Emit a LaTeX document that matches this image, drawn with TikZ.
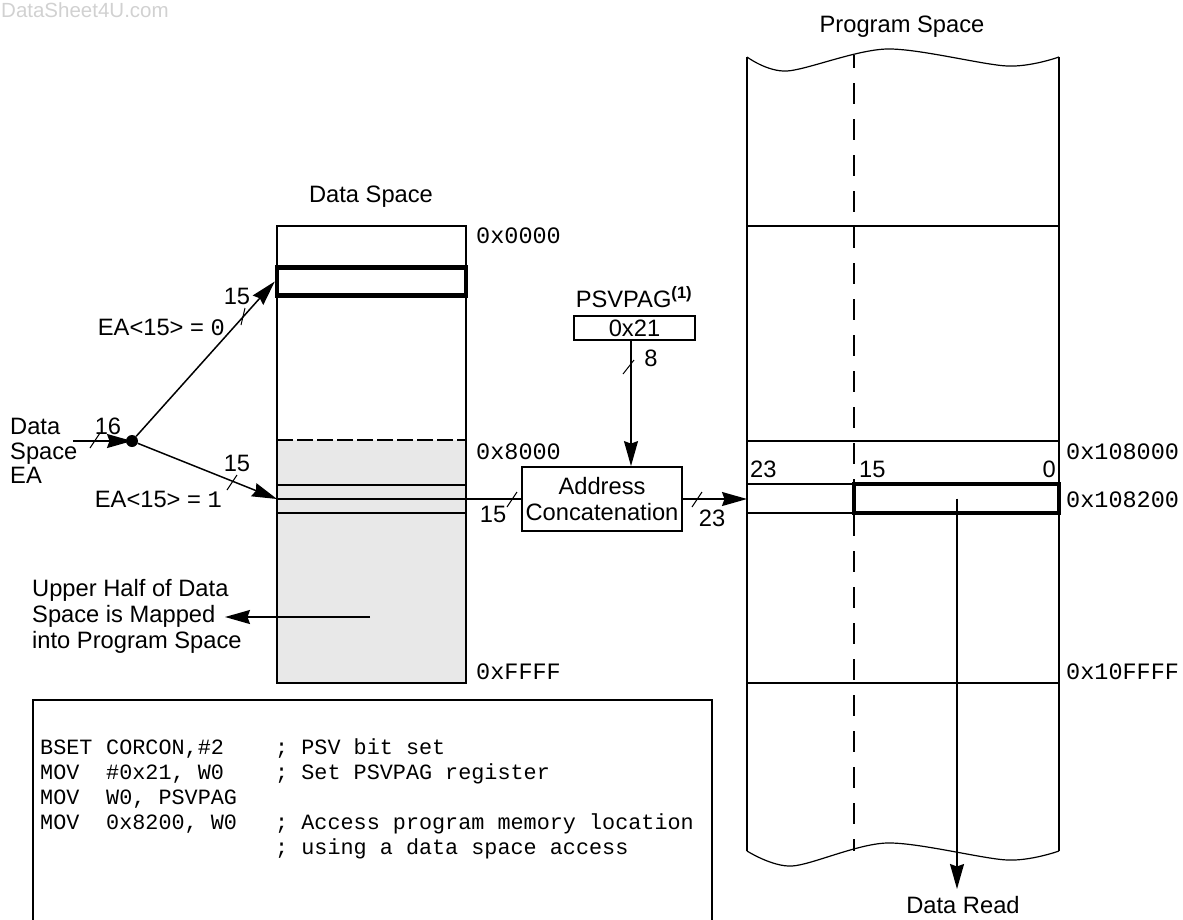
\documentclass[tikz,border=0pt]{standalone}
\usepackage{fontspec}
\setmainfont{Liberation Sans}
\newfontfamily\monofont{Liberation Mono}
\usetikzlibrary{arrows.meta}
\begin{document}
\begin{tikzpicture}[x=1pt,y=-1pt,
  lab/.style={font=\fontsize{23.7}{27}\selectfont, inner sep=0pt},
  hex/.style={font=\fontsize{23.5}{27}\selectfont\monofont, inner sep=0pt, anchor=west},
  code/.style={font=\fontsize{21.8}{25}\selectfont\monofont, inner sep=0pt, anchor=base west},
  conn/.style={line width=1.5pt, -{Stealth[length=25pt,width=14pt,inset=2.5pt]}},
  plain/.style={line width=1.5pt},
  tick/.style={line width=1pt},
  thickbox/.style={draw, line width=4.5pt, inner sep=0pt},
  regbox/.style={draw, line width=1.8pt, inner sep=0pt}
]
\useasboundingbox (0,0) rectangle (1183,919);

% watermark
\node[font=\fontsize{20.5}{24}\selectfont, text=black!18, anchor=base west, inner sep=0pt] (wm) at (1,17) {DataSheet4U.com};

% ---------------- Data space ----------------
\node[lab] (dstitle) at (371,197) {Data Space};
\fill[black!9] (277,440) rectangle (466,683);
\draw[line width=1.8pt] (277,226) rectangle (466,683);
\draw[line width=1.5pt, dash pattern=on 16pt off 4pt] (277,440) -- (466,440);
\draw[plain] (277,485) -- (466,485);
\draw[plain] (277,513) -- (466,513);
\node[thickbox, minimum width=189pt, minimum height=28pt] (dthick) at (371.5,281.5) {};
\node[hex] (h0) at (476,236) {0x0000};
\node[hex] (h8) at (476,452) {0x8000};
\node[hex] (hF) at (476,672) {0xFFFF};

% ---------------- EA split ----------------
\node[lab, align=left, anchor=west, font=\fontsize{23.7}{24.5}\selectfont] (dsea) at (10,451) {Data\\Space\\EA};
\coordinate (eastart) at (73,441);
\node[circle, fill=black, inner sep=0pt, minimum size=12pt] (dot) at (132,441) {};
\draw[conn] (eastart) -- (dot.center);
\draw[tick] (90,448) -- (100,433);
\node[lab] (l16) at (108,426) {16};

\draw[conn] (dot) -- (dthick.west);
\draw[tick] (241,325) -- (245,308);
\node[lab] (l15a) at (237,296) {15};
\node[lab, anchor=east] (ea0) at (225,327) {EA<15> = {\monofont 0}};

\coordinate (d15) at (277,499);
\draw[conn] (dot) -- (d15);
\draw[tick] (227,490) -- (237,475);
\node[lab] (l15b) at (237,463) {15};
\node[lab, anchor=east] (ea1) at (222,499) {EA<15> = {\monofont 1}};

% ---------------- PSVPAG + concatenation ----------------
\node[lab] (psvlab) at (634,297) {PSVPAG\textsuperscript{\textbf{(1)}}};
\node[regbox, minimum width=121pt, minimum height=24pt, font=\fontsize{23.7}{27}\selectfont] (psv) at (634.5,328) {0x21};
\node[regbox, minimum width=160pt, minimum height=64pt, align=center, font=\fontsize{23.7}{26}\selectfont] (addr) at (602,499) {Address\\Concatenation};
\draw[conn] (psv.south -| 631,0) -- (addr.north -| 631,0);
\draw[tick] (623,374) -- (634,360);
\node[lab] (l8) at (651,358) {8};

\draw[plain] (d15) -- (addr.west);
\draw[tick] (507,507) -- (517,492);
\node[lab] (l15c) at (493,514) {15};

\coordinate (pin) at (747,499);
\draw[conn] (addr.east) -- (pin);
\draw[tick] (692,507) -- (702,492);
\node[lab] (l23a) at (712,518) {23};

% ---------------- Upper half note ----------------
\node[lab, align=left, anchor=west, font=\fontsize{23.7}{26}\selectfont] (upper) at (32,616) {Upper Half of Data\\Space is Mapped\\into Program Space};
\coordinate (uin) at (370,617);
\coordinate (uout) at (225,617);
\draw[conn] (uin) -- (uout);

% ---------------- Program space ----------------
\node[lab] (pstitle) at (902,27) {Program Space};
\draw[line width=1.2pt] plot[smooth] coordinates {(747,57) (787,71) (887,49) (1007,66) (1059,57)};
\draw[line width=1.2pt] plot[smooth] coordinates {(747,851) (792,866) (887,843) (1007,860) (1059,851)};
\draw[line width=1.8pt] (747,57) -- (747,851);
\draw[line width=1.8pt] (1059,57) -- (1059,851);
\draw[line width=1.6pt, dash pattern=on 21pt off 15pt, dash phase=8pt] (854,55) -- (854,851);
\foreach \yy in {226,441,484,513,683} \draw[plain] (747,\yy) -- (1059,\yy);
\node[thickbox, minimum width=205pt, minimum height=29pt] (pthick) at (956.5,498.5) {};
\node[lab, anchor=west] (p23) at (750,469) {23};
\node[lab, anchor=west] (p15) at (859,469) {15};
\node[lab, anchor=east] (p0) at (1056,469) {0};
\node[hex] (h108000) at (1066,452) {0x108000};
\node[hex] (h108200) at (1066,500) {0x108200};
\node[hex] (h10FFFF) at (1066,672) {0x10FFFF};
\node[lab] (dread) at (963,905) {Data Read};
\draw[conn] (pthick.center -| 957,0) -- (957,889);

% ---------------- Code box ----------------
\coordinate (cbl) at (33,925);
\coordinate (cbr) at (712,925);
\draw[line width=1.8pt] (cbl) |- (712,700) -- (cbr);
\node[code] (c1a) at (40,754) {BSET};
\node[code] (c1b) at (106,754) {CORCON,\#2};
\node[code] (c1c) at (275,754) {; PSV bit set};
\node[code] (c2a) at (40,779) {MOV};
\node[code] (c2b) at (106,779) {\#0x21, W0};
\node[code] (c2c) at (275,779) {; Set PSVPAG register};
\node[code] (c3a) at (40,804) {MOV};
\node[code] (c3b) at (106,804) {W0, PSVPAG};
\node[code] (c4a) at (40,829) {MOV};
\node[code] (c4b) at (106,829) {0x8200, W0};
\node[code] (c4c) at (275,829) {; Access program memory location};
\node[code] (c5c) at (275,854) {; using a data space access};
\end{tikzpicture}
\end{document}
